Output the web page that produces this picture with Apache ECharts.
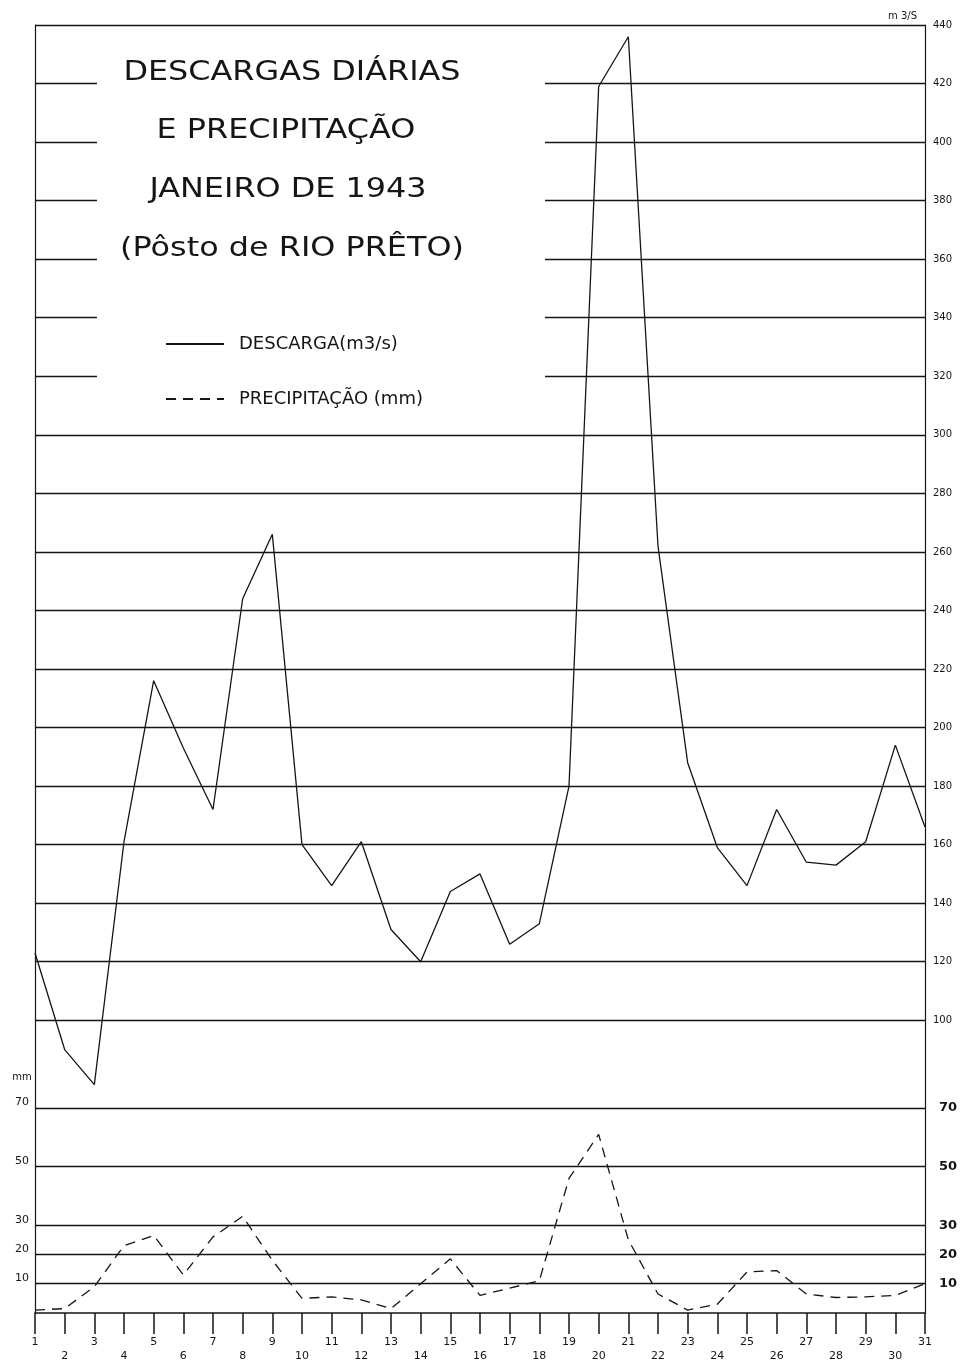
<!DOCTYPE html>
<html>
<head>
<meta charset="utf-8">
<script src="https://cdn.jsdelivr.net/npm/echarts@6/dist/echarts.min.js"></script>
<style>
  html, body { margin: 0; padding: 0; background: #fff; }
  #chart { width: 977px; height: 1363px; }
</style>
</head>
<body>
<div id="chart"></div>
<script>
// dias de janeiro de 1943
const days = ['1', '2', '3', '4', '5', '6', '7', '8', '9', '10', '11', '12', '13', '14', '15', '16',
  '17', '18', '19', '20', '21', '22', '23', '24', '25', '26', '27', '28', '29', '30', '31']

// descarga diaria (m3/s)
const descarga = [123, 90, 78, 161, 216, 193, 172, 244, 266, 160, 146, 161, 131, 120, 144, 150,
  126, 133, 180, 419, 436, 262, 188, 159, 146, 172, 154, 153, 161, 194, 166]

// precipitacao diaria (mm)
const precipitacao = [1, 1.5, 9, 23, 26.5, 13, 26, 33, 18, 5, 5.5, 4.5, 1.5, 10, 18.5, 6,
  8.5, 11, 46, 61, 25, 6.5, 1, 3, 14, 14.5, 6.5, 5.3, 5.5, 6, 10]

// divisoes dos eixos
const descargaTicks = [100, 120, 140, 160, 180, 200, 220, 240, 260, 280, 300, 320, 340, 360, 380, 400, 420, 440]
const chuvaTicks = [10, 20, 30, 50, 70]

const ink = '#151515'
const font = '"DejaVu Sans", sans-serif'

function titleLine(text, x, y) {
  return {
    type: 'text', z: 6, x: x, y: y, scaleX: 1.18,
    style: { text: text, font: '27px ' + font, fill: ink, align: 'center', verticalAlign: 'middle' }
  }
}

const chart = echarts.init(document.getElementById('chart'))

chart.setOption({
  backgroundColor: '#fff',
  animation: false,
  grid: { left: 35, right: 52, top: 25, bottom: 45 },
  legend: {
    orient: 'vertical',
    left: 160,
    top: 330,
    z: 20,
    itemWidth: 58,
    itemHeight: 20,
    itemGap: 37,
    selectedMode: false,
    itemStyle: { opacity: 0, borderWidth: 0 },
    textStyle: { fontFamily: font, fontSize: 18, color: ink, padding: [0, 0, 0, 10] },
    data: ['DESCARGA(m3/s)', 'PRECIPITAÇÃO (mm)']
  },
  graphic: [
    // quadro do titulo (interrompe as linhas)
    { type: 'rect', z: 5, shape: { x: 97, y: 40, width: 448, height: 385 }, style: { fill: '#fff' } },
    titleLine('DESCARGAS DIÁRIAS', 292, 73),
    titleLine('E PRECIPITAÇÃO', 286, 131),
    titleLine('JANEIRO DE 1943', 288, 190),
    titleLine('(Pôsto de RIO PRÊTO)', 292, 249),
    { type: 'text', z: 6, x: 22, y: 1077, style: { text: 'mm', font: '10px ' + font, fill: ink, align: 'center', verticalAlign: 'middle' } }
  ],
  xAxis: {
    type: 'category',
    data: days,
    boundaryGap: false,
    axisLine: { lineStyle: { color: ink, width: 1.6 } },
    axisTick: { interval: 0, length: 21, lineStyle: { color: ink, width: 1.5 } },
    axisLabel: {
      interval: 0,
      margin: 22,
      fontFamily: font,
      fontSize: 11,
      lineHeight: 14,
      color: ink,
      formatter: v => (Number(v) % 2 ? v : '\n' + v)
    },
    splitLine: { show: false }
  },
  yAxis: [
    {
      // escala da descarga (lado direito)
      type: 'value',
      position: 'right',
      min: 0,
      max: 440,
      name: 'm 3/S',
      nameLocation: 'end',
      nameGap: 4,
      nameTextStyle: { fontFamily: font, fontSize: 10, color: ink, align: 'right', padding: [0, 8, 0, 0] },
      axisLine: { show: true, lineStyle: { color: ink, width: 1.2 } },
      axisTick: { show: false, customValues: chuvaTicks.concat(descargaTicks) },
      splitLine: { show: true, lineStyle: { color: ink, width: 1.3 } },
      axisLabel: {
        customValues: chuvaTicks.concat(descargaTicks),
        margin: 8,
        formatter: v => (v < 100 ? '{p|' + v + '}' : '{d|' + v + '}'),
        rich: {
          d: { fontFamily: font, fontSize: 10, color: ink },
          p: { fontFamily: font, fontSize: 13, fontWeight: 'bold', color: ink, padding: [0, 0, 0, 6] }
        }
      }
    },
    {
      // escala da precipitacao (lado esquerdo)
      type: 'value',
      position: 'left',
      min: 0,
      max: 440,
      axisLine: { show: true, lineStyle: { color: ink, width: 1.2 } },
      axisTick: { show: false },
      splitLine: { show: false },
      axisLabel: {
        customValues: chuvaTicks,
        margin: 6,
        verticalAlign: 'bottom',
        fontFamily: font,
        fontSize: 11,
        color: ink
      }
    }
  ],
  series: [
    {
      name: 'DESCARGA(m3/s)',
      type: 'line',
      yAxisIndex: 0,
      data: descarga,
      symbol: 'none',
      z: 10,
      lineStyle: { color: ink, width: 1.3 },
      itemStyle: { color: ink }
    },
    {
      name: 'PRECIPITAÇÃO (mm)',
      type: 'line',
      yAxisIndex: 1,
      data: precipitacao,
      symbol: 'none',
      z: 10,
      lineStyle: { color: ink, width: 1.3, type: [10, 7] },
      itemStyle: { color: ink }
    }
  ]
})
</script>
</body>
</html>
